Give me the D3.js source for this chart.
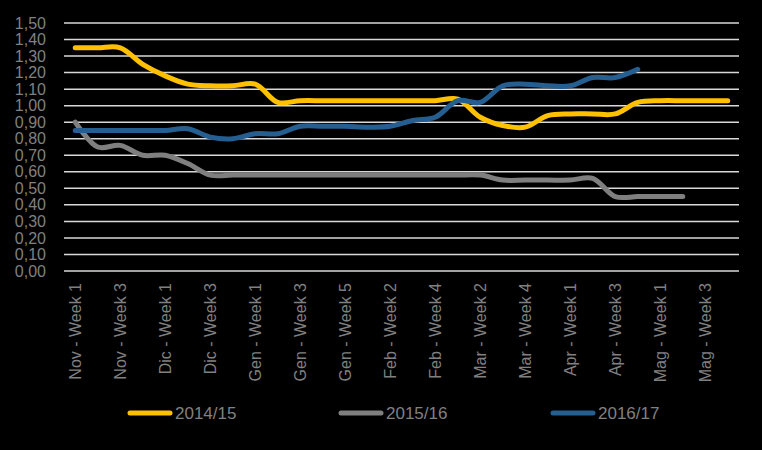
<!DOCTYPE html>
<html>
<head>
<meta charset="utf-8">
<script src="https://cdn.jsdelivr.net/npm/d3@7"></script>
<style>
  body { margin: 0; background: #000; }
  svg { display: block; font-family: "Liberation Sans", Arial, sans-serif; }
</style>
</head>
<body>
<div id="chart"></div>
<script>
// Categorie (settimane)
const weeks = [
    "Nov - Week 1", "Nov - Week 2", "Nov - Week 3", "Nov - Week 4",
    "Dic - Week 1", "Dic - Week 2", "Dic - Week 3", "Dic - Week 4",
    "Gen - Week 1", "Gen - Week 2", "Gen - Week 3", "Gen - Week 4", "Gen - Week 5",
    "Feb - Week 1", "Feb - Week 2", "Feb - Week 3", "Feb - Week 4",
    "Mar - Week 1", "Mar - Week 2", "Mar - Week 3", "Mar - Week 4", "Mar - Week 5",
    "Apr - Week 1", "Apr - Week 2", "Apr - Week 3", "Apr - Week 4",
    "Mag - Week 1", "Mag - Week 2", "Mag - Week 3", "Mag - Week 4"
];

const s2014 = [1.35, 1.35, 1.35, 1.25, 1.18, 1.13, 1.12, 1.12, 1.13, 1.02,
    1.03, 1.03, 1.03, 1.03, 1.03, 1.03, 1.03, 1.04, 0.93, 0.88,
    0.87, 0.94, 0.95, 0.95, 0.95, 1.02, 1.03, 1.03, 1.03, 1.03];

const s2015 = [0.90, 0.75, 0.76, 0.70, 0.70, 0.65, 0.58, 0.58, 0.58, 0.58,
    0.58, 0.58, 0.58, 0.58, 0.58, 0.58, 0.58, 0.58, 0.58, 0.55,
    0.55, 0.55, 0.55, 0.56, 0.45, 0.45, 0.45, 0.45];

const s2016 = [0.85, 0.85, 0.85, 0.85, 0.85, 0.86, 0.81, 0.80, 0.83, 0.83,
    0.875, 0.875, 0.875, 0.87, 0.875, 0.91, 0.93, 1.03, 1.02, 1.12,
    1.13, 1.12, 1.12, 1.17, 1.17, 1.22];

const seriesNames = ["2014/15", "2015/16", "2016/17"];
const yTicks = [0, 0.1, 0.2, 0.3, 0.4, 0.5, 0.6, 0.7, 0.8, 0.9, 1.0, 1.1, 1.2, 1.3, 1.4, 1.5];

const width = 762;
const height = 450;
const margin = { top: 23, right: 23, bottom: 179, left: 64 };

const colors = ["#FFC000", "#7F7F7F", "#255E91"];
const textColor = "#808080";

const svg = d3.select("#chart")
    .append("svg")
    .attr("width", width)
    .attr("height", height);

svg.append("rect")
    .attr("width", width)
    .attr("height", height)
    .attr("fill", "#000");

const x = d3.scaleBand()
    .domain(weeks)
    .range([margin.left, width - margin.right]);

const y = d3.scaleLinear()
    .domain([0, 1.5])
    .range([height - margin.bottom, margin.top]);

// Griglia orizzontale
svg.append("g")
    .selectAll("line")
    .data(yTicks)
    .join("line")
    .attr("x1", margin.left)
    .attr("x2", width - margin.right)
    .attr("y1", d => y(d))
    .attr("y2", d => y(d))
    .attr("stroke", "#D9D9D9")
    .attr("stroke-width", 1.5);

// Asse Y
const fmt = d => d3.format(".2f")(d).replace(".", ",");
svg.append("g")
    .attr("transform", `translate(${margin.left - 18},0)`)
    .call(d3.axisLeft(y).tickValues(yTicks).tickFormat(fmt).tickSize(0).tickPadding(0))
    .call(g => g.select(".domain").remove())
    .call(g => g.selectAll("text")
        .attr("fill", textColor)
        .attr("font-size", "16px")
        .attr("font-family", "Liberation Sans, Arial, sans-serif"));

// Asse X (etichette ruotate, una ogni due)
const xAxis = svg.append("g")
    .attr("transform", `translate(0,${height - margin.bottom})`)
    .call(d3.axisBottom(x).tickValues(weeks.filter((d, i) => i % 2 === 0)).tickSize(0).tickPadding(0))
    .call(g => g.select(".domain").remove());

xAxis.selectAll("text")
    .attr("fill", textColor)
    .attr("font-size", "16px")
    .attr("font-family", "Liberation Sans, Arial, sans-serif")
    .attr("text-anchor", "end")
    .attr("transform", "rotate(-90)")
    .attr("x", -12)
    .attr("y", 0)
    .attr("dy", "0.35em");

// Linee
const line = d3.line()
    .x((d, i) => x(weeks[i]) + x.bandwidth() / 2)
    .y(d => y(d))
    .curve(d3.curveCatmullRom.alpha(0.5));

[s2014, s2015, s2016].forEach((s, i) => {
    svg.append("path")
        .datum(s)
        .attr("fill", "none")
        .attr("stroke", colors[i])
        .attr("stroke-width", 5)
        .attr("stroke-linecap", "round")
        .attr("stroke-linejoin", "round")
        .attr("d", line);
});

// Legenda
const legendX = [128, 339, 551];
const legend = svg.append("g")
    .attr("transform", "translate(0,413)");

seriesNames.forEach((name, i) => {
    legend.append("line")
        .attr("x1", legendX[i] + 2)
        .attr("x2", legendX[i] + 42)
        .attr("y1", 0)
        .attr("y2", 0)
        .attr("stroke", colors[i])
        .attr("stroke-width", 5)
        .attr("stroke-linecap", "round");

    legend.append("text")
        .attr("x", legendX[i] + 47)
        .attr("y", 0)
        .attr("dy", "0.35em")
        .attr("fill", textColor)
        .attr("font-size", "17px")
        .text(name);
});
</script>
</body>
</html>
